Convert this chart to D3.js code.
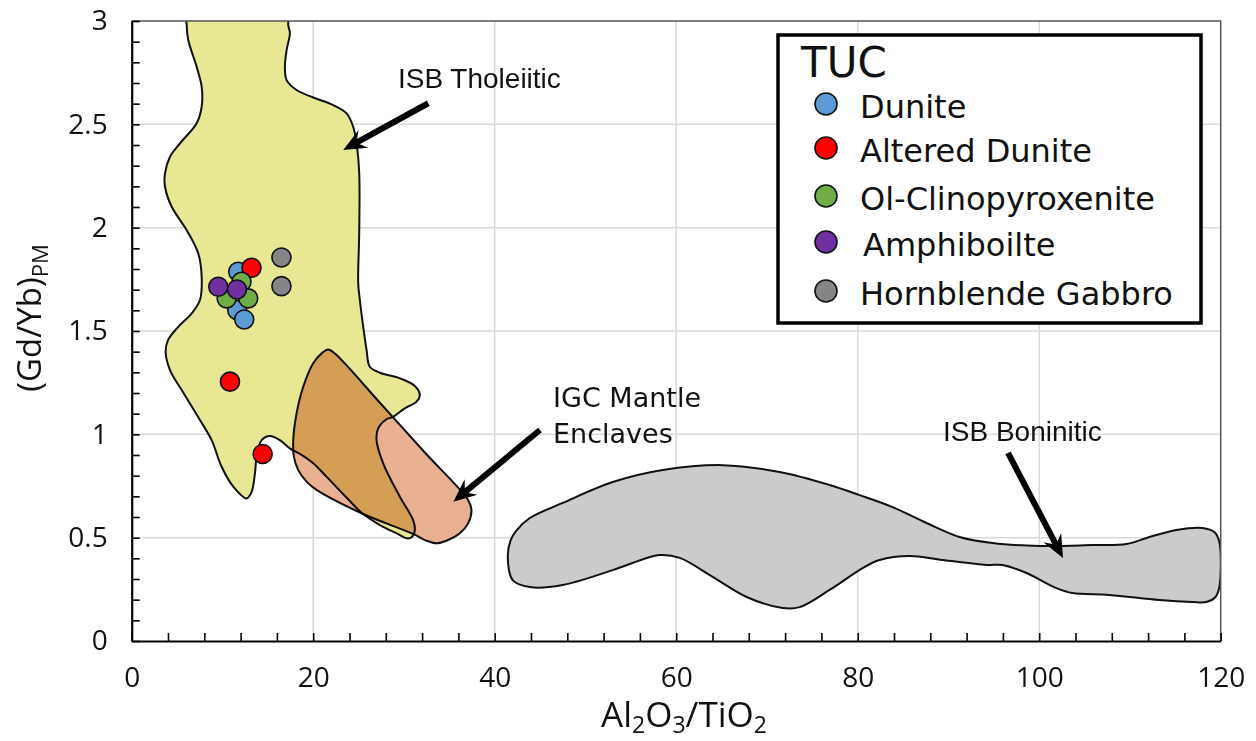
<!DOCTYPE html>
<html><head><meta charset="utf-8">
<script src="https://cdn.jsdelivr.net/npm/d3@7"></script>
<style>
html,body{margin:0;padding:0;background:#fff;}
svg{display:block;}
</style></head>
<body>
<svg id="chart" width="1256" height="741"></svg>
<script>
// ---- axis ticks ----
const xMajorTicks = [0, 20, 40, 60, 80, 100, 120];
const yMajorTicks = [0, 0.5, 1, 1.5, 2, 2.5, 3];

// ---- sample series: [Al2O3/TiO2, (Gd/Yb)PM] ----
const seriesNames  = ["Dunite", "Altered Dunite", "Ol-Clinopyroxenite", "Amphiboilte", "Hornblende Gabbro"];
const seriesColors = ["#5b9bd5", "#ff0000", "#70ad47", "#7030a0", "#858585"];
const dunite            = [[11.74, 1.787], [11.63, 1.601], [12.40, 1.556]];
const alteredDunite     = [[13.20, 1.806], [10.83, 1.255], [14.43, 0.905]];
const olClinopyroxenite = [[12.10, 1.738], [10.46, 1.658], [12.84, 1.658]];
const amphibolite       = [[9.54, 1.714], [11.60, 1.701]];
const hornblendeGabbro  = [[16.50, 1.856], [16.50, 1.717]];
const seriesValues = [dunite, alteredDunite, olClinopyroxenite, amphibolite, hornblendeGabbro];

// ---- reference fields (outline vertices) ----
const isbTholeiitic = [
  [6.2, 3.09], [6.06, 2.98], [6.23, 2.908], [7.16, 2.778], [7.71, 2.682], [7.71, 2.585], [7.16, 2.505],
  [5.32, 2.408], [4.22, 2.343], [3.67, 2.263], [3.67, 2.198], [4.41, 2.101], [6.06, 1.988], [7.33, 1.876],
  [7.71, 1.762], [7.52, 1.650], [6.64, 1.587], [5.10, 1.519], [4.00, 1.456], [3.74, 1.400], [4.22, 1.311],
  [5.51, 1.214], [7.52, 1.069], [8.81, 0.972], [9.91, 0.843], [11.19, 0.747], [12.67, 0.690], [13.22, 0.722],
  [13.58, 0.811], [13.77, 0.892], [14.32, 0.972], [15.23, 0.992], [16.33, 0.972], [17.43, 0.932],
  [18.54, 0.905], [19.97, 0.861], [21.51, 0.793], [23.72, 0.692], [25.37, 0.619], [27.35, 0.561],
  [29.19, 0.521], [30.29, 0.497], [30.84, 0.502], [31.20, 0.537], [31.01, 0.585], [29.55, 0.698],
  [27.71, 0.860], [26.98, 0.972], [27.16, 1.029], [28.08, 1.073], [28.81, 1.085],
  [30.10, 1.126], [31.39, 1.158], [31.75, 1.190], [31.20, 1.234], [29.55, 1.271], [27.35, 1.298],
  [26.24, 1.327], [25.88, 1.408], [25.51, 1.521], [25.14, 1.650], [24.96, 1.732], [25.07, 1.974],
  [25.07, 2.263], [24.78, 2.408], [24.41, 2.488], [23.68, 2.553], [22.20, 2.593], [20.0, 2.630],
  [18.17, 2.666], [17.07, 2.714], [16.88, 2.778], [17.07, 2.859], [17.43, 2.941], [17.25, 2.980],
  [17.1, 3.09]
];
const igcMantleEnclaves = [
  [21.65, 1.411], [22.39, 1.391], [27.35, 1.153], [32.30, 0.912], [37.07, 0.682], [37.44, 0.634],
  [37.07, 0.569], [36.16, 0.521], [34.69, 0.485], [33.59, 0.473], [32.49, 0.485], [31.01, 0.518],
  [25.33, 0.618], [20.37, 0.731], [19.27, 0.771], [18.35, 0.827], [17.87, 0.892], [17.80, 0.972],
  [18.17, 1.102], [18.90, 1.230], [20.0, 1.344], [20.96, 1.393]
];
const isbBoninitic = [
  [41.44, 0.406], [41.77, 0.489], [42.43, 0.537], [43.87, 0.595], [47.50, 0.668], [53.01, 0.769],
  [58.51, 0.827], [65.12, 0.851], [71.40, 0.818], [76.90, 0.755], [80.21, 0.706], [83.84, 0.648],
  [87.59, 0.571], [91.22, 0.503], [94.86, 0.474], [100.03, 0.460], [105.87, 0.464], [109.61, 0.469],
  [112.15, 0.503], [115.12, 0.537], [117.98, 0.547], [119.30, 0.527], [119.85, 0.479], [119.85, 0.261],
  [119.42, 0.213], [118.42, 0.189], [116.88, 0.189], [113.25, 0.198], [107.74, 0.223], [103.67, 0.232],
  [101.90, 0.256], [98.60, 0.329], [95.96, 0.368], [94.20, 0.368], [89.35, 0.392], [85.72, 0.411],
  [82.41, 0.392], [80.54, 0.353], [76.90, 0.247], [73.60, 0.164], [71.73, 0.160], [67.76, 0.213],
  [64.02, 0.310], [60.39, 0.402], [58.18, 0.416], [53.01, 0.343], [47.50, 0.271], [43.87, 0.261],
  [41.99, 0.295]
];
const fieldValues = [isbTholeiitic, igcMantleEnclaves, isbBoninitic];
const fieldColors = ["#e8e794", "#e9b091", "#cbcbcb"];

// ---- field labels with pointer arrows (data units) ----
const fieldLabels = [
  { lines: ["ISB Tholeiitic"], font: "'Liberation Sans', Arial, sans-serif", size: 28, lead: 0,
    at: [29.34, 2.674], from: [32.68, 2.602], to: [23.31, 2.376] },
  { lines: ["IGC Mantle", "Enclaves"], font: "'DejaVu Sans', sans-serif", size: 27, lead: 35.4,
    at: [46.43, 1.131], from: [44.99, 1.021], to: [35.44, 0.674] },
  { lines: ["ISB Boninitic"], font: "'Liberation Sans', Arial, sans-serif", size: 28, lead: 0,
    at: [89.40, 0.968], from: [96.56, 0.910], to: [102.62, 0.402] }
];

// ---- layout ----
const plot = { left: 131.7, right: 1220.7, top: 21, bottom: 641 };
const svg = d3.select("#chart");
const x = d3.scaleLinear().domain([0, 120]).range([plot.left, plot.right]);
const y = d3.scaleLinear().domain([0, 3]).range([plot.bottom, plot.top]);

svg.append("defs").append("clipPath").attr("id", "plot-clip")
  .append("rect")
  .attr("x", plot.left).attr("y", plot.top)
  .attr("width", plot.right - plot.left).attr("height", plot.bottom - plot.top);

// gridlines
const grid = svg.append("g").attr("stroke", "#d9d9d9").attr("stroke-width", 1.5);
grid.selectAll("line.gx").data(xMajorTicks.filter(d => d > 0 && d < 120)).join("line")
  .attr("x1", d => x(d)).attr("x2", d => x(d)).attr("y1", plot.top).attr("y2", plot.bottom);
grid.selectAll("line.gy").data(yMajorTicks.filter(d => d > 0 && d < 3)).join("line")
  .attr("y1", d => y(d)).attr("y2", d => y(d)).attr("x1", plot.left).attr("x2", plot.right);

// fields
const outline = d3.line().x(d => x(d[0])).y(d => y(d[1])).curve(d3.curveCatmullRomClosed.alpha(0.5));
svg.append("g").attr("clip-path", "url(#plot-clip)")
  .selectAll("path").data(fieldValues).join("path")
  .attr("d", outline)
  .attr("fill", (d, i) => fieldColors[i])
  .attr("stroke", "#111").attr("stroke-width", 2)
  .style("mix-blend-mode", "multiply");

// frame (top / right)
svg.append("path")
  .attr("d", `M${plot.left},${plot.top}H${plot.right}V${plot.bottom}`)
  .attr("fill", "none").attr("stroke", "#555").attr("stroke-width", 1.5);

// axes
const tickFont = "'Open Sans', sans-serif";
const gx = svg.append("g").attr("transform", `translate(0,${plot.bottom})`)
  .call(d3.axisBottom(x).tickValues(d3.range(0, 121, 4))
    .tickFormat(d => xMajorTicks.includes(d) ? String(d) : "")
    .tickSizeInner(-8).tickSizeOuter(0).tickPadding(26));
const isYMajor = d => yMajorTicks.some(t => Math.abs(t - d) < 1e-6);
const gy = svg.append("g").attr("transform", `translate(${plot.left},0)`)
  .call(d3.axisLeft(y).tickValues(d3.range(0, 31).map(i => i / 10))
    .tickFormat(d => isYMajor(d) ? String(+d.toFixed(1)) : "")
    .tickSizeInner(-8).tickSizeOuter(0).tickPadding(24));
[gx, gy].forEach(g => {
  g.select(".domain").attr("stroke", "#000").attr("stroke-width", 2.2);
  g.selectAll(".tick line").attr("stroke", "#000").attr("stroke-width", 1.6);
  g.selectAll(".tick text").attr("font-family", tickFont).attr("font-size", 28).attr("fill", "#111");
});

// field labels and arrows
const ann = svg.append("g");
fieldLabels.forEach(a => {
  const t = ann.append("text")
    .attr("font-family", a.font).attr("font-size", a.size).attr("fill", "#111");
  a.lines.forEach((ln, k) => {
    t.append("tspan").attr("x", x(a.at[0])).attr("y", y(a.at[1]) + k * a.lead).text(ln);
  });
  const sx = x(a.from[0]), sy = y(a.from[1]), tx = x(a.to[0]), ty = y(a.to[1]);
  const len = Math.hypot(tx - sx, ty - sy), ux = (tx - sx) / len, uy = (ty - sy) / len;
  const nx = -uy, ny = ux, L = 23, Wd = 10, notch = 15;
  ann.append("line")
    .attr("x1", sx).attr("y1", sy)
    .attr("x2", tx - ux * notch).attr("y2", ty - uy * notch)
    .attr("stroke", "#000").attr("stroke-width", 6);
  ann.append("path")
    .attr("d", `M${tx},${ty}L${tx - ux * L + nx * Wd},${ty - uy * L + ny * Wd}` +
      `L${tx - ux * notch},${ty - uy * notch}L${tx - ux * L - nx * Wd},${ty - uy * L - ny * Wd}Z`)
    .attr("fill", "#000");
});

// sample points
const pts = svg.append("g");
seriesValues.forEach((vals, i) => {
  pts.selectAll(null).data(vals).join("circle")
    .attr("cx", d => x(d[0])).attr("cy", d => y(d[1])).attr("r", 9.5)
    .attr("fill", seriesColors[i]).attr("stroke", "#111").attr("stroke-width", 1.6);
});

// axis titles
const titleFont = "'Open Sans', sans-serif";
const xt = svg.append("text").attr("x", 684).attr("y", 727).attr("text-anchor", "middle")
  .attr("font-family", titleFont).attr("font-size", 35).attr("fill", "#111");
[["Al", 0], ["2", 1], ["O", 0], ["3", 1], ["/TiO", 0], ["2", 1]].forEach(([s, sub], k, arr) => {
  const prevSub = k > 0 && arr[k - 1][1];
  xt.append("tspan").attr("font-size", sub ? 23 : 35)
    .attr("dy", sub ? 6 : (prevSub ? -6 : 0)).text(s);
});
const yt = svg.append("text").attr("transform", "translate(41,318) rotate(-90)")
  .attr("text-anchor", "middle").attr("font-family", titleFont).attr("font-size", 33).attr("fill", "#111");
yt.append("tspan").text("(Gd/Yb)");
yt.append("tspan").attr("font-size", 22).attr("dy", 7).text("PM");

// legend
const lg = svg.append("g");
lg.append("rect").attr("x", 778).attr("y", 35).attr("width", 423).attr("height", 288)
  .attr("fill", "#fff").attr("stroke", "#000").attr("stroke-width", 3.5);
lg.append("text").attr("x", 801).attr("y", 77)
  .attr("font-family", "'DejaVu Sans', sans-serif").attr("font-size", 42).attr("fill", "#111").text("TUC");
const rowY = [104, 148, 196, 242, 291];
seriesNames.forEach((name, i) => {
  lg.append("circle").attr("cx", 826).attr("cy", rowY[i]).attr("r", 11)
    .attr("fill", seriesColors[i]).attr("stroke", "#111").attr("stroke-width", 1.6);
  lg.append("text").attr("x", name === "Amphiboilte" ? 863 : 860).attr("y", rowY[i] + 14)
    .attr("font-family", "'DejaVu Sans', sans-serif").attr("font-size", 32).attr("fill", "#111").text(name);
});
</script>
</body></html>
